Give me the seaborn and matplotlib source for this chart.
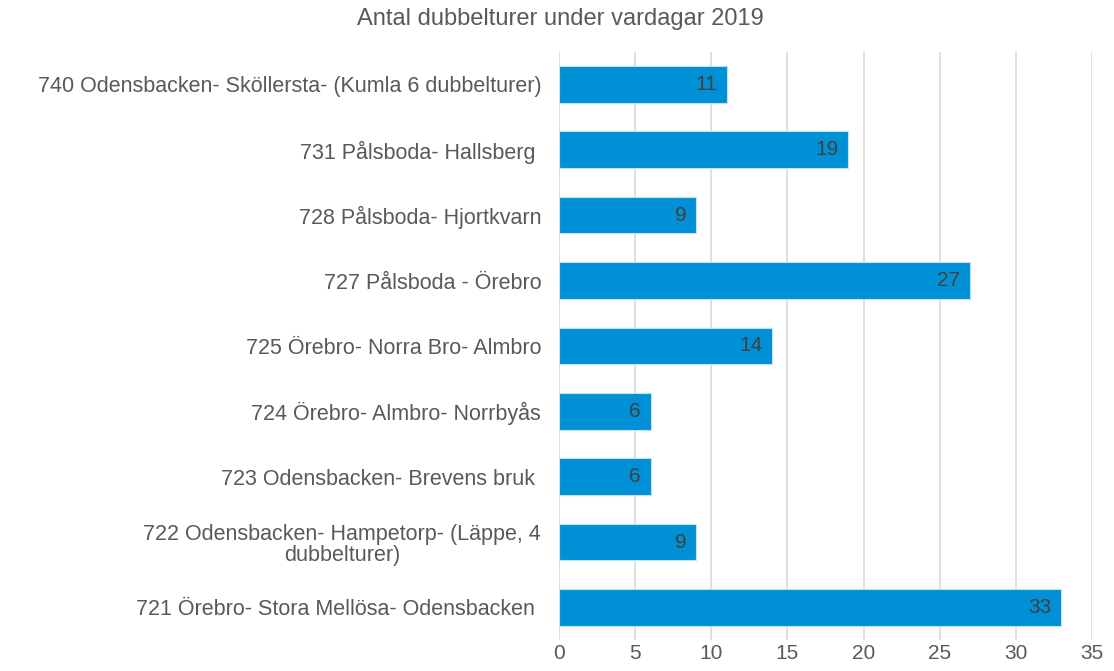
import pandas as pd
import matplotlib
matplotlib.use("Agg")
import matplotlib.pyplot as plt
import seaborn as sns

# data
linjer = [
    "740 Odensbacken- Sköllersta- (Kumla 6 dubbelturer)",
    "731 Pålsboda- Hallsberg ",
    "728 Pålsboda- Hjortkvarn",
    "727 Pålsboda - Örebro",
    "725 Örebro- Norra Bro- Almbro",
    "724 Örebro- Almbro- Norrbyås",
    "723 Odensbacken- Brevens bruk ",
    "722 Odensbacken- Hampetorp- (Läppe, 4\ndubbelturer)",
    "721 Örebro- Stora Mellösa- Odensbacken ",
]
dubbelturer = [11, 19, 9, 27, 14, 6, 6, 9, 33]
x_ticks = [0, 5, 10, 15, 20, 25, 30, 35]

df = pd.DataFrame({"linje": linjer, "antal": dubbelturer})

sns.set_theme(style="white")
plt.rcParams["font.family"] = ["Liberation Sans", "DejaVu Sans"]

text_col = "#595959"
bar_col = "#0090D5"

fig = plt.figure(figsize=(11.14, 6.71), dpi=100)
ax = fig.add_axes([0.502, 0.046, 0.478, 0.877])

sns.barplot(data=df, x="antal", y="linje", orient="h", color=bar_col,
            saturation=1, width=0.56, edgecolor="#BFE3F5", linewidth=0.8, ax=ax)

ax.set_xlim(0, 35)
ax.set_ylim(8.5, -0.5)
ax.set_xticks(x_ticks)
ax.grid(axis="x", color="#D9D9D9", linewidth=1.2)
ax.set_axisbelow(True)
for s in ax.spines.values():
    s.set_visible(False)

ax.set_xlabel("")
ax.set_ylabel("")
ax.tick_params(axis="x", length=0, labelsize=15, labelcolor=text_col, pad=3)
ax.tick_params(axis="y", length=0, labelsize=15.5, labelcolor=text_col, pad=13)
for lbl in ax.get_yticklabels():
    lbl.set_multialignment("center")
    lbl.set_linespacing(1.0)

# värden inne i staplarna
for p in ax.patches:
    w = p.get_width()
    ax.annotate(f"{int(w)}", (w, p.get_y() + p.get_height() / 2),
                xytext=(-7, 0), textcoords="offset points",
                ha="right", va="center", fontsize=15, color="#404040")

fig.suptitle("Antal dubbelturer under vardagar 2019", x=0.503, y=0.988,
             fontsize=17, color=text_col)

fig.savefig("out.png", dpi=100)
